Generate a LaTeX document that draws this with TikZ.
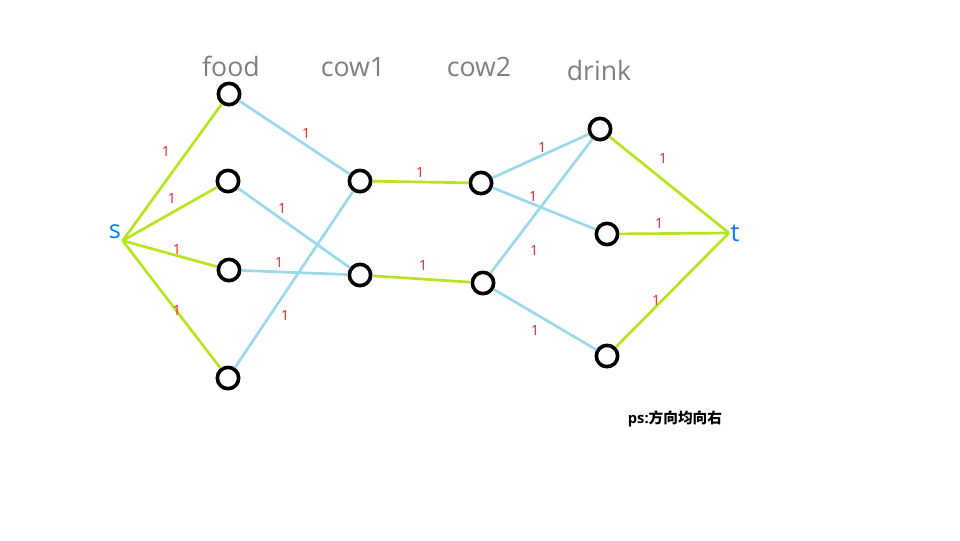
\documentclass[tikz,border=0pt]{standalone}
\usepackage{fontspec}
\setmainfont{Open Sans}
\newfontfamily\cjk{Noto Sans CJK SC}
\usetikzlibrary{calc}

\definecolor{lgreen}{RGB}{181,230,29}
\definecolor{lblue}{RGB}{153,217,234}
\definecolor{lred}{RGB}{237,28,36}
\definecolor{lgray}{RGB}{127,127,127}
\definecolor{stblue}{RGB}{0,128,255}

\begin{document}
\begin{tikzpicture}[x=0.75pt,y=-0.75pt,
  vtx/.style={circle,draw=black,line width=2.7pt,minimum size=16pt,inner sep=0pt},
  gedge/.style={lgreen,line width=2pt},
  bedge/.style={lblue,line width=2pt},
  wlab/.style={text=lred,font=\fontsize{10.5}{12}\selectfont,inner sep=0pt},
  head/.style={text=lgray,font=\fontsize{20}{24}\selectfont}]
  \useasboundingbox (0,0) rectangle (960,540);

  % sorgente e pozzo
  \node[text=stblue,font=\fontsize{19}{22}\selectfont,inner sep=1pt] (s) at (115,232) {s};
  \node[text=stblue,font=\fontsize{19}{22}\selectfont,inner sep=1pt] (t) at (735,233) {t};

  % titoli
  \node[head] (hfood) at (231,66) {food};
  \node[head] (hcow1) at (353,67) {cow1};
  \node[head] (hcow2) at (479,67) {cow2};
  \node[head] (hdrink) at (599,70) {drink};

  % vertici
  \node[vtx] (f1) at (229,94) {};
  \node[vtx] (f2) at (228,181) {};
  \node[vtx] (f3) at (229,270) {};
  \node[vtx] (f4) at (228,378) {};
  \node[vtx] (a1) at (360,181) {};
  \node[vtx] (a2) at (360,275) {};
  \node[vtx] (b1) at (481,183) {};
  \node[vtx] (b2) at (483,283) {};
  \node[vtx] (d1) at (600,129) {};
  \node[vtx] (d2) at (607,234) {};
  \node[vtx] (d3) at (607,356) {};

  % archi
  \draw[gedge] (s.south east) -- (f1);
  \draw[gedge] (s.south east) -- (f2);
  \draw[gedge] (s.south east) -- (f3);
  \draw[gedge] (s.south east) -- (f4);
  \draw[bedge] (f1) -- (a1);
  \draw[bedge] (f2) -- (a2);
  \draw[bedge] (f3) -- (a2);
  \draw[bedge] (f4) -- (a1);
  \draw[gedge] (a1) -- (b1);
  \draw[gedge] (a2) -- (b2);
  \draw[bedge] (b1) -- (d1);
  \draw[bedge] (b1) -- (d2);
  \draw[bedge] (b2) -- (d1);
  \draw[bedge] (b2) -- (d3);
  \draw[gedge] (d1) -- (t.west);
  \draw[gedge] (d2) -- (t.west);
  \draw[gedge] (d3) -- (t.west);

  % capacita
  \node[wlab] (w1) at (166,151) {1};
  \node[wlab] (w2) at (172,198) {1};
  \node[wlab] (w3) at (177,249) {1};
  \node[wlab] (w4) at (177,310) {1};
  \node[wlab] (w5) at (306,133) {1};
  \node[wlab] (w6) at (282,208) {1};
  \node[wlab] (w7) at (279,262) {1};
  \node[wlab] (w8) at (285,315) {1};
  \node[wlab] (w9) at (420,172) {1};
  \node[wlab] (w10) at (423,265) {1};
  \node[wlab] (w11) at (542,147) {1};
  \node[wlab] (w12) at (533,196) {1};
  \node[wlab] (w13) at (534,250) {1};
  \node[wlab] (w14) at (535,330) {1};
  \node[wlab] (w15) at (663,158) {1};
  \node[wlab] (w16) at (659,223) {1};
  \node[wlab] (w17) at (656,300) {1};

  % nota
  \node[font=\fontsize{11}{13}\selectfont\bfseries] (ps) at (675,419) {ps:{\cjk 方向均向右}};
\end{tikzpicture}
\end{document}
